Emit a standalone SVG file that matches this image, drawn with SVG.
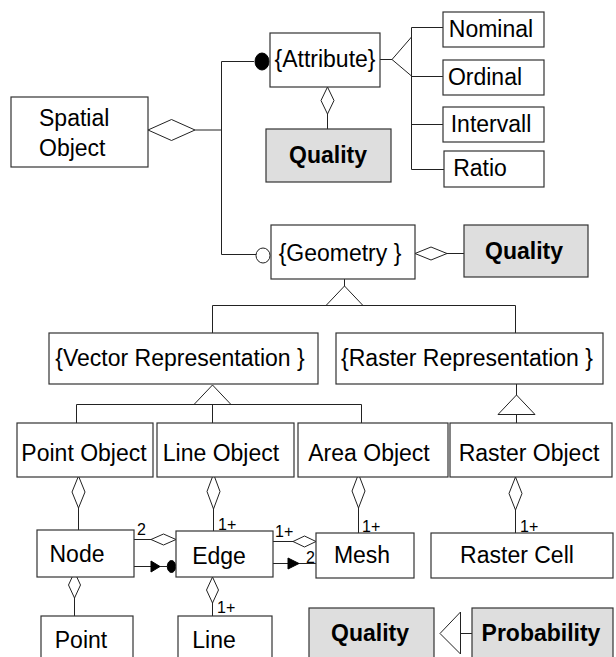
<svg xmlns="http://www.w3.org/2000/svg" width="616" height="657" viewBox="0 0 616 657">
<style>
.box{fill:#fff;stroke:#333;stroke-width:1.2}
.q{fill:#dedede;stroke:#333;stroke-width:1.2}
.t{font-family:"Liberation Sans",Arial,sans-serif;font-size:23px;fill:#000}
.tm{text-anchor:middle}
.b{font-weight:bold}
.lbl{font-family:"Liberation Sans",Arial,sans-serif;font-size:16px;fill:#000}
.ln{fill:none;stroke:#222;stroke-width:1}
.dia{fill:#fff;stroke:#222;stroke-width:1}
.fill{fill:#000;stroke:#000;stroke-width:1}
</style>
<rect width="616" height="657" fill="#fff"/>
<g id="connectors">
  <!-- Spatial Object aggregation to attribute/geometry -->
  <polyline class="ln" points="195,130 221.5,130"/>
  <polyline class="ln" points="254,61.5 221.5,61.5 221.5,254.5 256,254.5"/>
  <polygon class="dia" points="148,130 171.5,119.5 195,130 171.5,140.5"/>
  <ellipse class="fill" cx="262" cy="61.5" rx="7" ry="8.5"/>
  <ellipse class="dia" cx="263" cy="255.5" rx="7" ry="7.5"/>
  <!-- Attribute -> Quality -->
  <polygon class="dia" points="327.5,87 334,100.5 327.5,114 321,100.5"/>
  <line class="ln" x1="327.5" y1="114" x2="327.5" y2="129"/>
  <!-- Attribute generalization -->
  <line class="ln" x1="380" y1="59.5" x2="392" y2="59.5"/>
  <polygon class="dia" points="392,59.5 411.5,37 411.5,76"/>
  <polyline class="ln" points="443,27.5 411.5,27.5 411.5,169.5 444,169.5"/>
  <line class="ln" x1="411.5" y1="76.5" x2="443" y2="76.5"/>
  <line class="ln" x1="411.5" y1="124.5" x2="443" y2="124.5"/>
  <!-- Geometry -> Quality -->
  <polygon class="dia" points="415,253.5 431,247 447,253.5 431,260"/>
  <line class="ln" x1="447" y1="253.5" x2="464" y2="253.5"/>
  <!-- Geometry generalization -->
  <line class="ln" x1="344.5" y1="279" x2="344.5" y2="286"/>
  <polygon class="dia" points="344.5,286 363,305.5 326,305.5"/>
  <polyline class="ln" points="212.5,333 212.5,305.5 515.5,305.5 515.5,333"/>
  <!-- Vector generalization -->
  <polygon class="dia" points="212.5,385 231,404.5 194,404.5"/>
  <polyline class="ln" points="76.5,423 76.5,404.5 361.5,404.5 361.5,423"/>
  <line class="ln" x1="212.5" y1="404.5" x2="212.5" y2="423"/>
  <!-- Raster generalization -->
  <line class="ln" x1="516.5" y1="384" x2="516.5" y2="395"/>
  <polygon class="dia" points="516.5,395 535,414.5 498,414.5"/>
  <line class="ln" x1="516.5" y1="414.5" x2="516.5" y2="423"/>
  <!-- Object -> part aggregations -->
  <polygon class="dia" points="78.5,476 85,492 78.5,508 72,492"/>
  <line class="ln" x1="78.5" y1="508" x2="78.5" y2="530"/>
  <polygon class="dia" points="213.5,474 220,491.5 213.5,509 207,491.5"/>
  <line class="ln" x1="213.5" y1="509" x2="213.5" y2="531"/>
  <polygon class="dia" points="358.5,474 365,491 358.5,508 352,491"/>
  <line class="ln" x1="358.5" y1="508" x2="358.5" y2="533"/>
  <polygon class="dia" points="515.5,477 522,493.5 515.5,510 509,493.5"/>
  <line class="ln" x1="515.5" y1="510" x2="515.5" y2="533"/>
  <!-- Node - Edge -->
  <line class="ln" x1="134" y1="539.5" x2="151" y2="539.5"/>
  <polygon class="dia" points="151,539.5 163.5,534 176,539.5 163.5,545"/>
  <line class="ln" x1="134" y1="566.5" x2="167" y2="566.5"/>
  <polygon class="fill" points="151,561 160,566.5 151,572"/>
  <ellipse class="fill" cx="171.5" cy="566.5" rx="4.2" ry="6"/>
  <!-- Edge - Mesh -->
  <line class="ln" x1="273" y1="541.5" x2="293" y2="541.5"/>
  <polygon class="dia" points="293,541.5 304.5,536 316,541.5 304.5,547"/>
  <line class="ln" x1="273" y1="563.5" x2="316" y2="563.5"/>
  <polygon class="fill" points="288,558 299,563.5 288,569"/>
  <!-- Node -> Point, Edge -> Line -->
  <polygon class="dia" points="74.5,572 80.5,585 74.5,598 68.5,585"/>
  <line class="ln" x1="74.5" y1="598" x2="74.5" y2="616"/>
  <polygon class="dia" points="212.5,577 218.5,590 212.5,603 206.5,590"/>
  <line class="ln" x1="212.5" y1="603" x2="212.5" y2="616"/>
  <!-- Probability -> Quality generalization -->
  <polygon class="dia" points="440,633.5 460.5,612 460.5,654"/>
  <line class="ln" x1="460.5" y1="633.5" x2="472" y2="633.5"/>
  <!-- multiplicities -->
  <text class="lbl" x="137" y="535">2</text>
  <text class="lbl" x="218" y="530">1+</text>
  <text class="lbl" x="275" y="537">1+</text>
  <text class="lbl" x="306" y="563">2</text>
  <text class="lbl" x="362" y="532">1+</text>
  <text class="lbl" x="520" y="532">1+</text>
  <text class="lbl" x="217" y="613">1+</text>
</g>
<g id="spatial-object"><rect class="box" x="11" y="97" width="137" height="70"/><text class="t" x="39" y="126">Spatial</text><text class="t" x="39" y="156">Object</text></g>
<g id="attribute"><rect class="box" x="270" y="33" width="110" height="54"/><text class="t tm" x="325" y="67">{Attribute}</text></g>
<g id="quality-attr"><rect class="q" x="266" y="129" width="125" height="53"/><text class="t tm b" x="328" y="163">Quality</text></g>
<g id="nominal"><rect class="box" x="443" y="12" width="101" height="35"/><text class="t tm" x="491" y="37">Nominal</text></g>
<g id="ordinal"><rect class="box" x="443" y="60" width="101" height="35"/><text class="t tm" x="485" y="85">Ordinal</text></g>
<g id="intervall"><rect class="box" x="443" y="107" width="101" height="35"/><text class="t tm" x="491" y="132">Intervall</text></g>
<g id="ratio"><rect class="box" x="444" y="151" width="100" height="36"/><text class="t tm" x="480" y="176">Ratio</text></g>
<g id="geometry"><rect class="box" x="271" y="225" width="144" height="54"/><text class="t tm" x="340" y="261">{Geometry }</text></g>
<g id="quality-geom"><rect class="q" x="464" y="225" width="124" height="52"/><text class="t tm b" x="524" y="259">Quality</text></g>
<g id="vector-representation"><rect class="box" x="49" y="333" width="269" height="51"/><text class="t tm" x="180" y="366">{Vector Representation }</text></g>
<g id="raster-representation"><rect class="box" x="336" y="333" width="267" height="51"/><text class="t tm" x="467" y="366">{Raster Representation }</text></g>
<g id="point-object"><rect class="box" x="17" y="423" width="136" height="54"/><text class="t tm" x="84" y="461">Point Object</text></g>
<g id="line-object"><rect class="box" x="157" y="423" width="137" height="54"/><text class="t tm" x="221" y="461">Line Object</text></g>
<g id="area-object"><rect class="box" x="298" y="423" width="150" height="54"/><text class="t tm" x="369" y="461">Area Object</text></g>
<g id="raster-object"><rect class="box" x="450" y="423" width="162" height="54"/><text class="t tm" x="529" y="461">Raster Object</text></g>
<g id="node"><rect class="box" x="37" y="530" width="97" height="47"/><text class="t tm" x="77" y="562">Node</text></g>
<g id="edge"><rect class="box" x="176" y="531" width="97" height="46"/><text class="t tm" x="219" y="564">Edge</text></g>
<g id="mesh"><rect class="box" x="316" y="533" width="98" height="45"/><text class="t tm" x="362" y="563">Mesh</text></g>
<g id="raster-cell"><rect class="box" x="431" y="533" width="182" height="45"/><text class="t tm" x="517" y="563">Raster Cell</text></g>
<g id="point"><rect class="box" x="41" y="616" width="92" height="50"/><text class="t tm" x="81" y="648">Point</text></g>
<g id="line"><rect class="box" x="178" y="616" width="94" height="50"/><text class="t tm" x="214" y="648">Line</text></g>
<g id="quality-prob"><rect class="q" x="309" y="608" width="125" height="58"/><text class="t tm b" x="370" y="641">Quality</text></g>
<g id="probability"><rect class="q" x="472" y="608" width="141" height="58"/><text class="t tm b" x="541" y="641">Probability</text></g>
</svg>
